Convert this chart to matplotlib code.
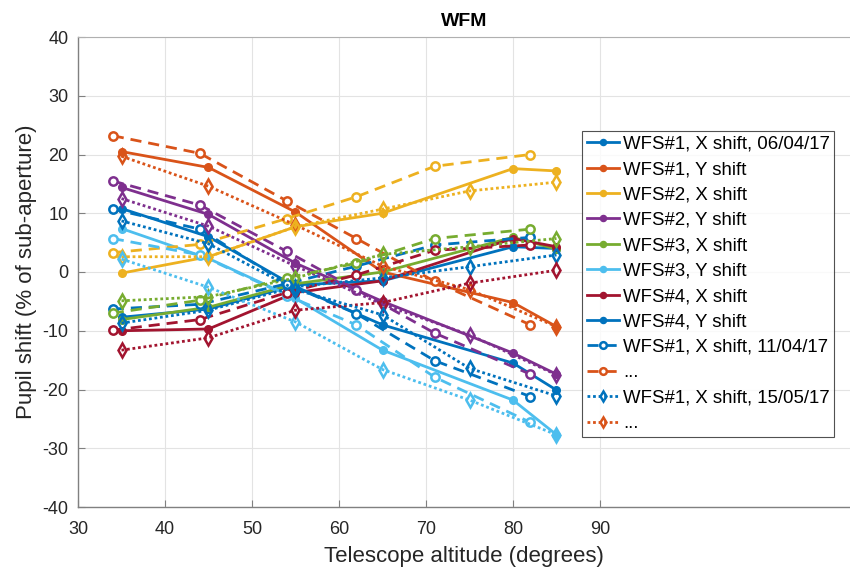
import matplotlib
matplotlib.use("Agg")
import matplotlib.pyplot as plt

plt.rcParams['font.family'] = ['Liberation Sans', 'DejaVu Sans']
plt.rcParams['axes.unicode_minus'] = False

# Altitudes for the three measurement dates
alt_0604 = [35, 45, 55, 65, 80, 85]
alt_1104 = [34, 44, 54, 62, 71, 82]
alt_1505 = [35, 45, 55, 65, 75, 85]

series_names = ["WFS#1, X shift", "WFS#1, Y shift", "WFS#2, X shift", "WFS#2, Y shift",
                "WFS#3, X shift", "WFS#3, Y shift", "WFS#4, X shift", "WFS#4, Y shift"]

# 06/04/17 (solid)
wfs1x_0604 = [-7.7, -6.3, -2.2, -1.5, 4.3, 4.0]
wfs1y_0604 = [20.5, 17.8, 10.2, 0.0, -5.2, -9.3]
wfs2x_0604 = [-0.2, 2.6, 7.7, 10.0, 17.6, 17.2]
wfs2y_0604 = [14.4, 9.8, 1.5, -5.0, -13.8, -17.4]
wfs3x_0604 = [-8.1, -6.0, -2.0, 0.0, 5.9, 3.9]
wfs3y_0604 = [7.4, 2.3, -4.5, -13.3, -21.8, -27.7]
wfs4x_0604 = [-10.0, -9.7, -3.5, -1.5, 5.7, 4.3]
wfs4y_0604 = [10.8, 6.0, -2.5, -9.0, -15.5, -20.1]

# 11/04/17 (dashed)
wfs1x_1104 = [-6.3, -5.5, -2.0, 1.0, 4.6, 5.9]
wfs1y_1104 = [23.2, 20.2, 12.1, 5.7, -1.6, -9.0]
wfs2x_1104 = [3.3, 4.7, 9.1, 12.8, 18.0, 20.0]
wfs2y_1104 = [15.5, 11.4, 3.5, -3.0, -10.4, -17.4]
wfs3x_1104 = [-7.0, -4.8, -1.0, 1.5, 5.7, 7.3]
wfs3y_1104 = [5.7, 2.9, -4.0, -9.0, -17.9, -25.6]
wfs4x_1104 = [-9.9, -8.1, -3.5, -0.5, 3.7, 4.6]
wfs4y_1104 = [10.7, 7.3, -2.0, -7.1, -15.1, -21.2]

# 15/05/17 (dotted)
wfs1x_1505 = [-8.7, -6.5, -2.5, -1.0, 0.9, 2.9]
wfs1y_1505 = [19.7, 14.6, 8.0, 1.0, -3.0, -9.3]
wfs2x_1505 = [2.6, 2.6, 7.7, 10.7, 13.8, 15.3]
wfs2y_1505 = [12.5, 7.8, 1.0, -5.5, -10.7, -17.5]
wfs3x_1505 = [-4.9, -4.2, -1.0, 3.0, 4.3, 5.7]
wfs3y_1505 = [2.2, -2.6, -8.5, -16.6, -21.8, -27.7]
wfs4x_1505 = [-13.3, -11.2, -6.5, -5.2, -1.9, 0.3]
wfs4y_1505 = [8.7, 4.8, -3.0, -7.3, -16.4, -21.1]

colors = ['#0072BD', '#D95319', '#EDB120', '#7E2F8E', '#77AC30', '#4DBEEE', '#A2142F', '#0072BD']

sets = [
    (alt_0604, [wfs1x_0604, wfs1y_0604, wfs2x_0604, wfs2y_0604, wfs3x_0604, wfs3y_0604, wfs4x_0604, wfs4y_0604]),
    (alt_1104, [wfs1x_1104, wfs1y_1104, wfs2x_1104, wfs2y_1104, wfs3x_1104, wfs3y_1104, wfs4x_1104, wfs4y_1104]),
    (alt_1505, [wfs1x_1505, wfs1y_1505, wfs2x_1505, wfs2y_1505, wfs3x_1505, wfs3y_1505, wfs4x_1505, wfs4y_1505]),
]

fig = plt.figure(figsize=(8.5, 5.72), dpi=100)
ax = fig.add_axes([78/850, 1-507/572, 1-78/850, (507-37)/572])

lw = 2.0
handles = []
labels = []
# solid
alts, vals = sets[0]
for i, v in enumerate(vals):
    h, = ax.plot(alts, v, '-', color=colors[i], lw=lw, marker='o', ms=5.5, mfc=colors[i], mec=colors[i], zorder=3)
    handles.append(h)
    labels.append(series_names[i] + (", 06/04/17" if i == 0 else ""))
# dashed
alts, vals = sets[1]
dh = []
for i, v in enumerate(vals):
    h, = ax.plot(alts, v, color=colors[i], lw=lw, ls=(0, (4, 2.5)), marker='o', ms=6, mfc='white', mec=colors[i], mew=1.8, zorder=3)
    dh.append(h)
# dotted
alts, vals = sets[2]
th = []
for i, v in enumerate(vals):
    h, = ax.plot(alts, v, color=colors[i], lw=lw, ls=(0, (1, 1)), marker='d', ms=7, mfc='none', mec=colors[i], mew=1.8, zorder=3)
    th.append(h)

handles += [dh[0], dh[1], th[0], th[1]]
labels += ["WFS#1, X shift, 11/04/17", "...", "WFS#1, X shift, 15/05/17", "..."]

ax.set_xlim(30, 30 + (850-78)/8.7)
ax.set_ylim(-40, 40)
ax.set_xticks([30, 40, 50, 60, 70, 80, 90])
ax.set_yticks(range(-40, 41, 10))
ax.grid(True, color='#e3e3e3', lw=0.8)
ax.set_axisbelow(True)
ax.tick_params(direction='in', length=5, width=0.8, labelsize=13)
ax.tick_params(axis='x', colors='#808080', labelcolor='#262626', pad=10)
ax.tick_params(axis='y', colors='#808080', labelcolor='#262626', pad=7)
for s in ['left', 'bottom']:
    ax.spines[s].set_color('#808080')
    ax.spines[s].set_linewidth(1.0)
ax.spines['top'].set_color('#b0b0b0')
ax.spines['right'].set_visible(False)

ax.set_xlabel("Telescope altitude (degrees)", fontsize=16, color='#262626', labelpad=6)
ax.set_ylabel("Pupil shift (% of sub-aperture)", fontsize=16, color='#262626', labelpad=4)
ax.set_title("WFM", fontsize=14, fontweight='bold', color='#000000', pad=8)

leg = ax.legend(handles, labels, loc='upper left', bbox_to_anchor=((582-78)/772, (507-131)/470),
                fontsize=13.4, frameon=True, fancybox=False, edgecolor='#262626', handlelength=1.75,
                handletextpad=0.2, borderpad=0.25, labelspacing=0.45, markerscale=0.8, borderaxespad=0)
leg.get_frame().set_linewidth(0.8)

fig.savefig("out.png", dpi=100)
